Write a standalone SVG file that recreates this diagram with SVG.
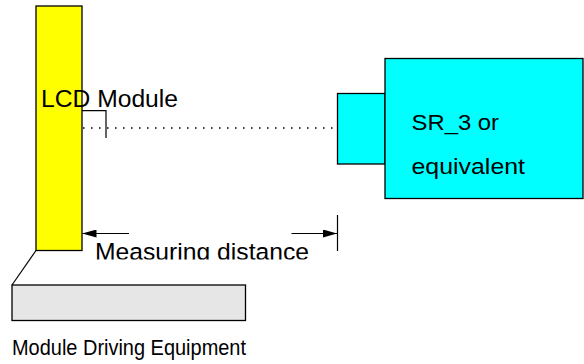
<svg xmlns="http://www.w3.org/2000/svg" width="584" height="364" viewBox="0 0 584 364">
<style>
.t{font-family:"Liberation Sans",Arial,sans-serif;fill:#000}
.box{stroke:#000;stroke-width:1.3}
.ln{stroke:#000;stroke-width:1.2;fill:none}
</style>
<defs>
<marker id="ah" viewBox="0 0 14 8" refX="14" refY="4" markerWidth="14" markerHeight="8" markerUnits="userSpaceOnUse" orient="auto">
<path d="M0,0 L14,4 L0,8 Z" fill="#000"/>
</marker>
<clipPath id="clipM"><rect x="0" y="0" width="584" height="259.5"/></clipPath>
</defs>
<rect width="584" height="364" fill="#fff"/>
<g id="module-driving-equipment">
<rect class="box" x="12" y="285" width="233.5" height="35.5" fill="#e6e6e6"/>
<text class="t" x="12" y="355" font-size="22" textLength="234" lengthAdjust="spacingAndGlyphs">Module Driving Equipment</text>
</g>
<g id="lcd-module">
<rect class="box" x="36" y="6" width="46" height="244.5" fill="#ffff00"/>
<text class="t" x="41" y="107.3" font-size="23.5" textLength="137" lengthAdjust="spacingAndGlyphs">LCD Module</text>
</g>
<g id="sr3">
<rect class="box" x="337.5" y="93.5" width="47.5" height="70.5" fill="#00ffff"/>
<rect class="box" x="385" y="58.5" width="198" height="140" fill="#00ffff"/>
<text class="t" x="411.5" y="129.5" font-size="22" textLength="87.5" lengthAdjust="spacingAndGlyphs">SR_3 or</text>
<text class="t" x="411.5" y="174" font-size="22" textLength="113.5" lengthAdjust="spacingAndGlyphs">equivalent</text>
</g>
<g id="connectors">
<line class="ln" x1="36" y1="250.5" x2="12" y2="285"/>
<polyline class="ln" points="82,110.7 106,110.7 106,138"/>
<line x1="83" y1="128" x2="337" y2="128" stroke="#000" stroke-width="1.3" stroke-dasharray="1.5,6.5"/>
<line class="ln" x1="129" y1="233.5" x2="82.5" y2="233.5" marker-end="url(#ah)"/>
<line class="ln" x1="291.5" y1="233.5" x2="337" y2="233.5" marker-end="url(#ah)"/>
<line class="ln" x1="337.5" y1="215" x2="337.5" y2="251"/>
</g>
<g id="measuring-label" clip-path="url(#clipM)">
<text class="t" x="95" y="259.5" font-size="24.5" textLength="214" lengthAdjust="spacingAndGlyphs">Measuring distance</text>
</g>
</svg>
